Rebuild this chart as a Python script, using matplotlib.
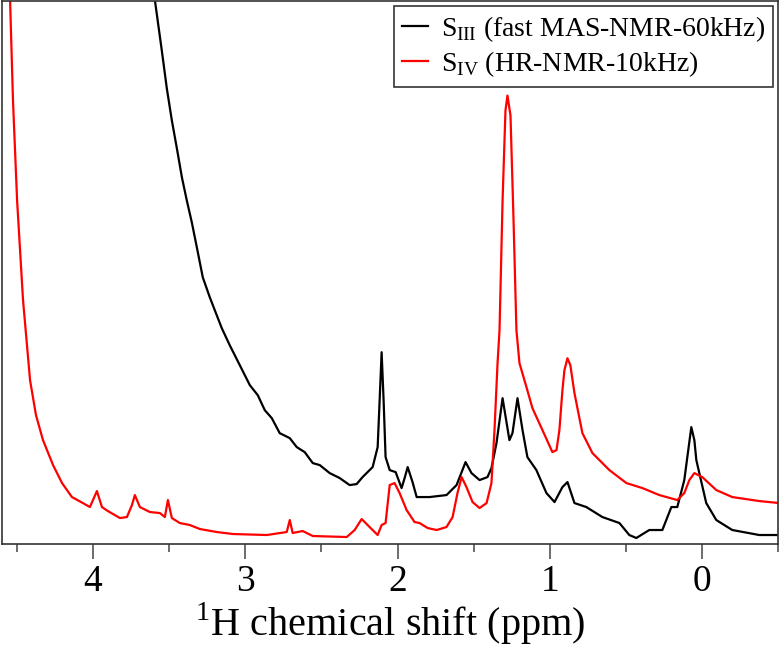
import numpy as np
import matplotlib
matplotlib.use("Agg")
import matplotlib.pyplot as plt


# Spectra: chemical shift (ppm) and intensity (arb. units).
ppm_III = np.array([3.626, 3.593, 3.548, 3.515, 3.482, 3.449, 3.416, 3.384, 3.351, 3.318,
                    3.279, 3.233, 3.200, 3.154, 3.102, 3.036, 2.970, 2.918, 2.872, 2.826,
                    2.774, 2.708, 2.662, 2.610, 2.557, 2.511, 2.446, 2.380, 2.315, 2.269,
                    2.230, 2.164, 2.131, 2.118, 2.105, 2.092, 2.079, 2.052, 2.013, 1.974,
                    1.954, 1.934, 1.902, 1.875, 1.790, 1.679, 1.613, 1.554, 1.515, 1.462,
                    1.410, 1.384, 1.351, 1.311, 1.266, 1.246, 1.213, 1.180, 1.148, 1.089,
                    1.023, 0.970, 0.918, 0.885, 0.839, 0.761, 0.656, 0.544, 0.479, 0.433,
                    0.348, 0.262, 0.203, 0.164, 0.118, 0.092, 0.072, 0.052, 0.039, -0.026,
                    -0.092, -0.197, -0.374, -0.505])
int_III = np.array([584, 544, 494, 456, 424, 396, 367, 344, 322, 297,
                    267, 247, 234, 216, 199, 179, 159, 149, 134, 126,
                    111, 106, 97, 92, 81, 79, 71, 66, 59, 60,
                    67, 77, 97, 144, 192, 144, 87, 74, 72, 56,
                    66, 77, 62, 47, 47, 49, 59, 82, 71, 64,
                    67, 76, 101, 146, 104, 111, 146, 114, 87, 74,
                    51, 42, 57, 62, 41, 37, 27, 21, 9, 6,
                    14, 14, 37, 37, 64, 94, 117, 104, 84, 41,
                    24, 14, 9, 9])

ppm_IV = np.array([4.557, 4.544, 4.525, 4.498, 4.459, 4.413, 4.374, 4.328, 4.262, 4.203,
                   4.138, 4.066, 4.020, 3.974, 3.941, 3.902, 3.823, 3.777, 3.744, 3.725,
                   3.692, 3.626, 3.561, 3.528, 3.508, 3.482, 3.430, 3.364, 3.298, 3.187,
                   3.082, 2.859, 2.728, 2.708, 2.689, 2.623, 2.557, 2.334, 2.282, 2.236,
                   2.184, 2.131, 2.105, 2.079, 2.052, 2.020, 1.987, 1.941, 1.889, 1.856,
                   1.803, 1.744, 1.679, 1.639, 1.607, 1.580, 1.548, 1.508, 1.462, 1.416,
                   1.384, 1.364, 1.344, 1.331, 1.311, 1.292, 1.279, 1.259, 1.239, 1.220,
                   1.200, 1.154, 1.115, 1.049, 0.984, 0.957, 0.938, 0.918, 0.905, 0.885,
                   0.866, 0.839, 0.787, 0.721, 0.610, 0.498, 0.393, 0.282, 0.164, 0.118,
                   0.085, 0.052, 0.000, -0.092, -0.197, -0.374, -0.505])
int_IV = np.array([604, 544, 444, 344, 244, 164, 129, 104, 79, 61,
                   47, 41, 37, 53, 37, 33, 26, 27, 39, 49,
                   37, 32, 31, 27, 44, 26, 21, 19, 15, 12,
                   10, 9, 12, 24, 11, 13, 8, 7, 14, 25,
                   17, 9, 19, 21, 59, 61, 51, 34, 22, 21,
                   16, 14, 17, 27, 51, 67, 57, 42, 36, 41,
                   61, 114, 181, 214, 344, 434, 449, 429, 324, 214,
                   181, 157, 136, 114, 92, 94, 114, 154, 174, 186,
                   179, 151, 111, 91, 74, 61, 56, 49, 44, 51,
                   64, 71, 67, 54, 47, 43, 41])

labels = [r"S$_{\mathrm{III}}$ (fast MAS-NMR-60kHz)", r"S$_{\mathrm{IV}}$ (HR-NMR-10kHz)"]
xticks = [4, 3, 2, 1, 0]

plt.rcParams['font.family'] = ['Liberation Serif', 'DejaVu Serif']
plt.rcParams['mathtext.fontset'] = 'custom'
plt.rcParams['mathtext.rm'] = 'Liberation Serif'

fig = plt.figure(figsize=(7.8, 6.59), dpi=100)
ax = fig.add_axes([0.002, 0.1745, 0.996, 0.8245])

ax.plot(ppm_III, int_III, color='black', lw=1.6, label=labels[0])
ax.plot(ppm_IV, int_IV, color='red', lw=1.6, label=labels[1])

ax.set_xlim(4.6, -0.5)
ax.set_ylim(0, 544)
ax.set_yticks([])
ax.set_xticks(xticks)
ax.set_xticks(np.arange(4.5, -0.6, -1.0), minor=True)
ax.tick_params(axis='x', which='major', direction='out', length=10.5, width=1.1,
               color='#444444', labelsize=27, pad=4)
ax.tick_params(axis='x', which='minor', direction='out', length=5.5, width=1.1, color='#444444')
for sp in ax.spines.values():
    sp.set_color('#333333')
    sp.set_linewidth(1.2)

ax.set_xlabel(r"$^{1}$H chemical shift (ppm)", fontsize=29, labelpad=1)

leg = ax.legend(loc='upper right', fontsize=20, frameon=True, fancybox=False,
                edgecolor='#333333', framealpha=1, borderaxespad=0.18,
                handlelength=0.95, handletextpad=0.45, borderpad=0.3,
                labelspacing=0.2)
leg.get_frame().set_linewidth(1.2)

fig.savefig("out.png", dpi=100)
